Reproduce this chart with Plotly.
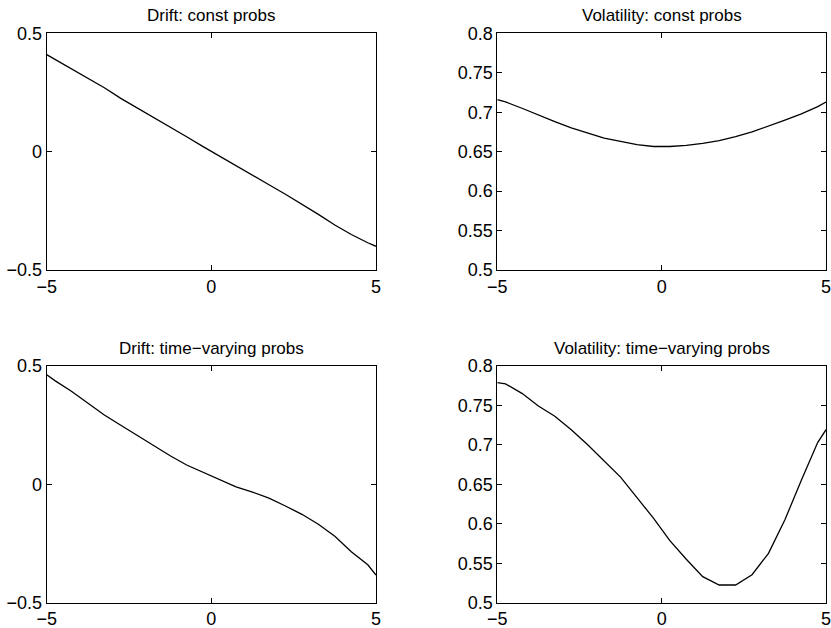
import plotly.graph_objects as go

x_grid = [-5, -4.75, -4.25, -3.75, -3.25, -2.75, -2.25, -1.75, -1.25, -0.75, -0.25,
          0.25, 0.75, 1.25, 1.75, 2.25, 2.75, 3.25, 3.75, 4.25, 4.75, 5]

drift_const = [0.41, 0.39, 0.35, 0.31, 0.27, 0.225, 0.185, 0.145, 0.105, 0.063, 0.021,
               -0.02, -0.06, -0.10, -0.14, -0.18, -0.222, -0.265, -0.31, -0.35, -0.385, -0.40]

vol_const = [0.716, 0.713, 0.705, 0.696, 0.688, 0.680, 0.673, 0.667, 0.663, 0.659, 0.6565,
             0.6565, 0.658, 0.6605, 0.664, 0.669, 0.675, 0.682, 0.690, 0.698, 0.707, 0.713]

drift_tv = [0.462, 0.437, 0.392, 0.342, 0.292, 0.249, 0.205, 0.163, 0.12, 0.081, 0.05,
            0.018, -0.011, -0.033, -0.059, -0.092, -0.127, -0.169, -0.22, -0.285, -0.34, -0.383]

vol_tv = [0.7785, 0.777, 0.765, 0.749, 0.736, 0.719, 0.700, 0.679, 0.659, 0.633, 0.607,
          0.5785, 0.555, 0.533, 0.5224, 0.5224, 0.5354, 0.5625, 0.605, 0.655, 0.703, 0.719]

titles = ["Drift: const probs", "Volatility: const probs",
          "Drift: time\u2212varying probs", "Volatility: time\u2212varying probs"]

x_ticks = [-5, 0, 5]
drift_ticks = [-0.5, 0, 0.5]
drift_ticklabels = ["\u22120.5", "0", "0.5"]
vol_ticks = [0.5, 0.55, 0.6, 0.65, 0.7, 0.75, 0.8]
vol_ticklabels = ["0.5", "0.55", "0.6", "0.65", "0.7", "0.75", "0.8"]
x_ticklabels = ["\u22125", "0", "5"]

W, H = 831, 628
xdom = [[46.7 / W, 376 / W], [497.3 / W, 826 / W]]
ydom = [[1 - 270 / H, 1 - 33.3 / H], [1 - 602.7 / H, 1 - 365.7 / H]]

series = [drift_const, vol_const, drift_tv, vol_tv]
font_family = "Liberation Sans, Arial, Helvetica, sans-serif"

fig = go.Figure()
layout = dict(width=W, height=H, margin=dict(l=0, r=0, t=0, b=0),
              paper_bgcolor="white", plot_bgcolor="white", showlegend=False,
              font=dict(family=font_family, color="black"))
annotations = []
for i, s in enumerate(series):
    r, c = divmod(i, 2)
    ax = "" if i == 0 else str(i + 1)
    fig.add_trace(go.Scatter(x=x_grid, y=s, mode="lines",
                             line=dict(color="black", width=1.3),
                             xaxis="x" + ax, yaxis="y" + ax, hoverinfo="skip"))
    is_vol = (c == 1)
    common = dict(showgrid=False, zeroline=False, showline=True, linecolor="black",
                  linewidth=1, mirror="ticks", ticks="inside", ticklen=5,
                  tickcolor="black", tickwidth=1, automargin=False,
                  ticklabeloverflow="allow",
                  tickfont=dict(size=18, family=font_family, color="black"))
    layout["xaxis" + ax] = dict(domain=xdom[c], range=[-5, 5], tickvals=x_ticks,
                                ticktext=x_ticklabels, anchor="y" + ax, **common)
    layout["yaxis" + ax] = dict(domain=ydom[r],
                                range=[0.5, 0.8] if is_vol else [-0.5, 0.5],
                                tickvals=vol_ticks if is_vol else drift_ticks,
                                ticktext=vol_ticklabels if is_vol else drift_ticklabels,
                                anchor="x" + ax, **common)
    annotations.append(dict(text=titles[i], x=sum(xdom[c]) / 2, y=ydom[r][1],
                            xref="paper", yref="paper", xanchor="center", yanchor="bottom",
                            yshift=6, showarrow=False,
                            font=dict(size=17, family=font_family, color="black")))
layout["annotations"] = annotations
fig.update_layout(**layout)
fig.write_html("out.html", config={"displayModeBar": False, "staticPlot": True},
               post_script="document.body.style.margin='0';document.body.style.overflow='hidden';")
